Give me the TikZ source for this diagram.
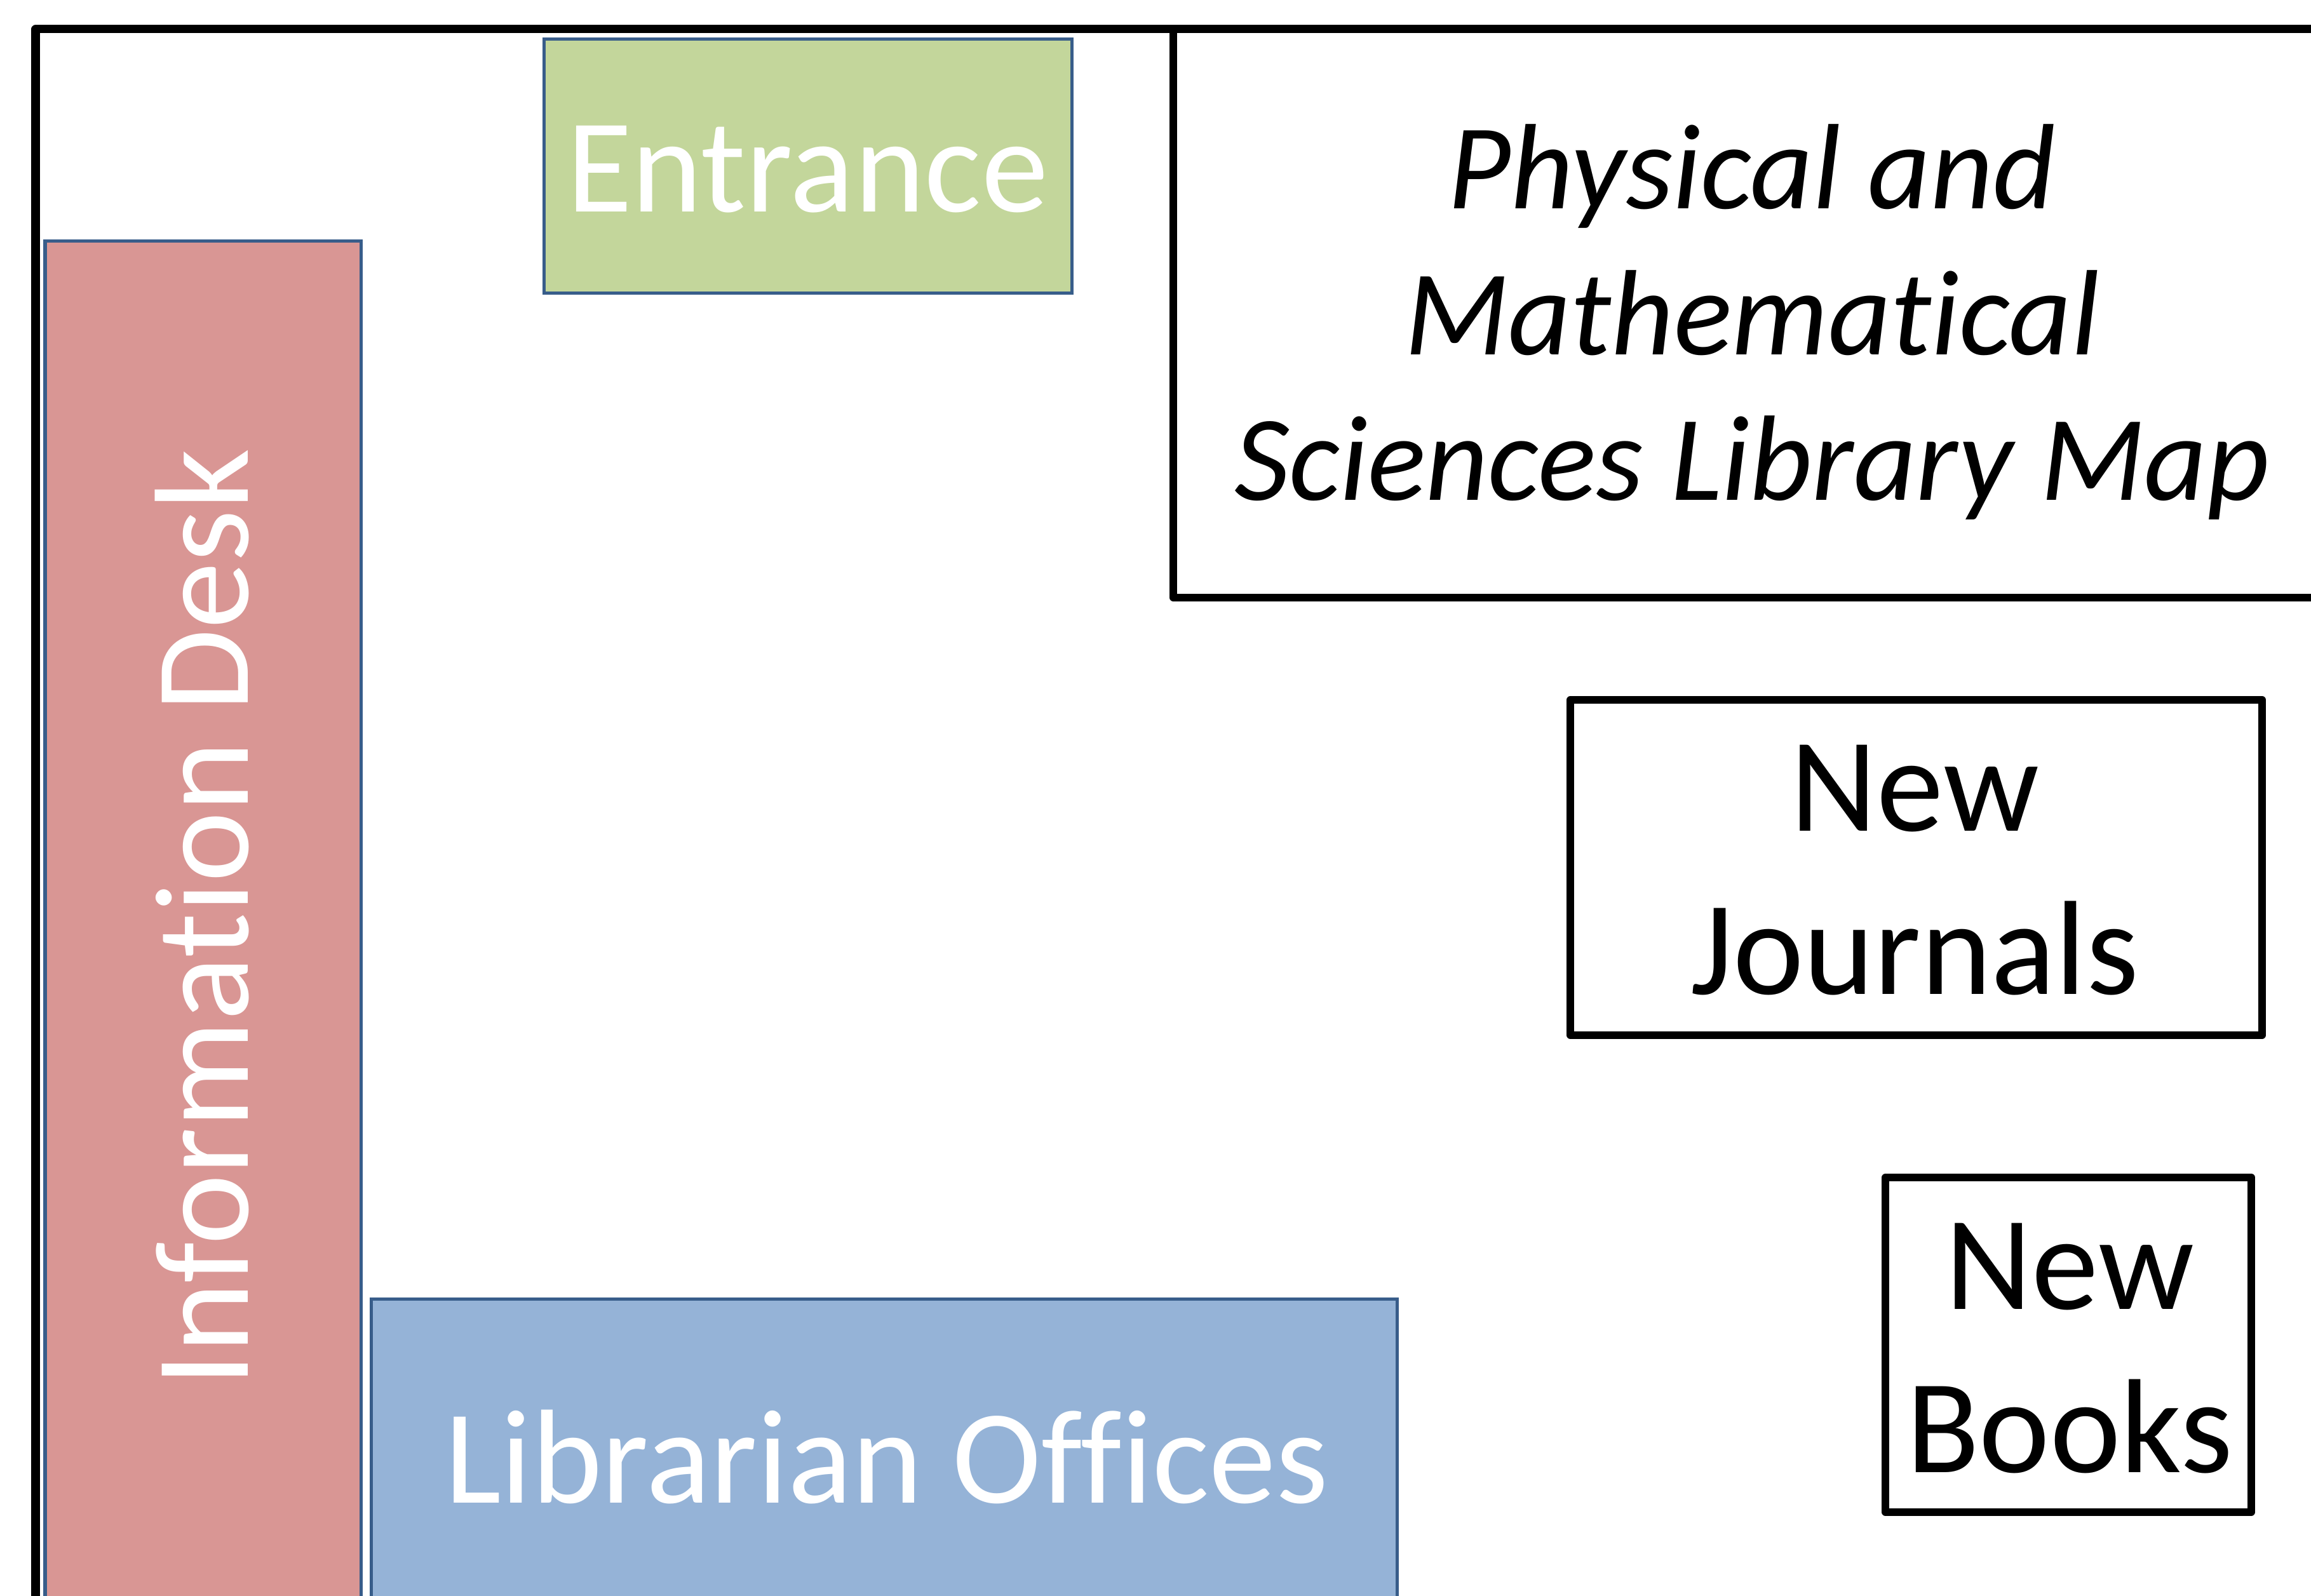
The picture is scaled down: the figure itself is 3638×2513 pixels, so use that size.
\documentclass[tikz,border=0pt]{standalone}
\usepackage{fontspec}
\setmainfont{Carlito}[Ligatures=NoCommon]
\usetikzlibrary{fit}
\definecolor{pinkfill}{HTML}{D99694}
\definecolor{greenfill}{HTML}{C3D69B}
\definecolor{bluefill}{HTML}{95B3D7}
\definecolor{outlineblue}{HTML}{385D8A}
\tikzset{
  frame/.style={draw=black, line width=0.13cm, line join=round, inner sep=0pt},
  blackbox/.style={draw=black, line width=0.115cm, line join=round, inner sep=0pt},
  roombox/.style={draw=outlineblue, line width=0.05cm, inner sep=0pt},
  whitetext/.style={text=white, font=\fontsize{60}{73}\selectfont, inner sep=0pt},
  blacktext/.style={text=black, font=\fontsize{60}{72.8}\selectfont, inner sep=0pt, align=center},
  titletext/.style={text=black, font=\fontsize{54.4}{65.4}\selectfont\itshape, inner sep=0pt, align=center}
}
\begin{document}
\begin{tikzpicture}[x=0.01cm,y=-0.01cm]
\useasboundingbox (0,0) rectangle (3638,2513);
\fill[white] (0,0) rectangle (3638,2513);
\clip (0,0) rectangle (3638,2513);
% outer frame (continues beyond the picture)
\node[frame, fit={(56,46) (4200,3200)}] (floor) {};
% rooms
\node[roombox, fill=pinkfill, fit={(71,380) (568,2700)}] (info) {};
\node[roombox, fill=greenfill, fit={(856,62) (1687,462)}] (entrance) {};
\node[roombox, fill=bluefill, fit={(584,2045) (2199,2700)}] (offices) {};
% title and black boxes
\node[blackbox, fit={(1847,46) (3672,941)}] (titlebox) {};
\node[blackbox, fit={(2472,1102) (3561,1630)}] (journals) {};
\node[blackbox, fit={(2968,1854) (3544,2381)}] (books) {};
% texts (multi-line nodes: base = baseline of the last line)
\node[whitetext, anchor=base] (entrancetext) at (1271,334) {Entrance};
\node[whitetext, anchor=base] (officestext) at (1396,2366) {Librarian Offices};
\node[whitetext, anchor=base, rotate=90] (infotext) at (390,1445) {Information Desk};
\node[titletext, anchor=base] (titletext) at (2758,788) {Physical and\\Mathematical\\Sciences Library Map};
\node[blacktext, anchor=base] (journalstext) at (3014,1565) {New\\Journals};
\node[blacktext, anchor=base] (bookstext) at (3258,2318) {New\\Books};
\end{tikzpicture}
\end{document}
